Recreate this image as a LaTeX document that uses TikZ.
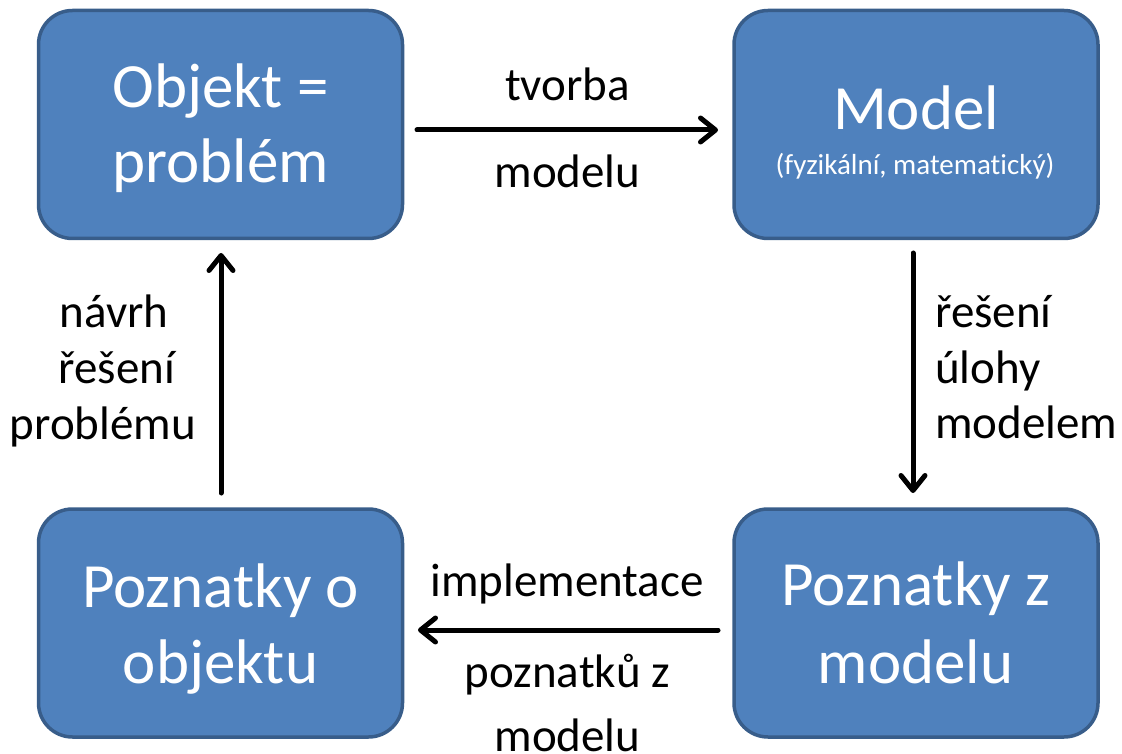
\documentclass[tikz,border=0pt]{standalone}
\usepackage{fontspec}
\setmainfont[Ligatures=NoCommon]{Carlito}
\usetikzlibrary{arrows.meta}

\definecolor{boxfill}{HTML}{4F81BD}
\definecolor{boxline}{HTML}{385D8A}

\tikzset{
  box/.style={draw=boxline, fill=boxfill, line width=3.5pt, rounded corners=34pt,
    minimum width=364pt, minimum height=228pt, outer sep=0pt, inner sep=0pt},
  boxtext/.style={text=white, font=\fontsize{63}{75}\selectfont, inner sep=0pt, anchor=base},
  subtext/.style={text=white, font=\fontsize{29}{35}\selectfont, inner sep=0pt, anchor=base},
  lbl/.style={text=black, font=\fontsize{47}{56}\selectfont, inner sep=0pt, anchor=base},
  lblw/.style={lbl, anchor=base west},
  flow/.style={draw=black, line width=5pt, line cap=round,
    -{Straight Barb[length=15pt, width=24pt, line cap=round, line join=round]}}
}

\begin{document}
\begin{tikzpicture}[x=1pt, y=-1pt]
  \useasboundingbox (0,0) rectangle (1122,754);

  % the four stages of the cycle
  \node[box] (obj)   at (220.5,124.5) {};
  \node[box] (model) at (916,124.5)   {};
  \node[box] (pzo)   at (220.5,623)   {};
  \node[box] (pzm)   at (916,623)     {};

  % box captions
  \node[boxtext] (objA) at (220.5,108) {Objekt =};
  \node[boxtext] (objB) at (220.5,183) {problém};
  \node[boxtext] (modA) at (916,130)   {Model};
  \node[subtext] (modB) at (915,175)   {(fyzikální, matematický)};
  \node[boxtext] (pzoA) at (220.5,607) {Poznatky o};
  \node[boxtext] (pzoB) at (220.5,683) {objektu};
  \node[boxtext] (pzmA) at (916,605)   {Poznatky z};
  \node[boxtext] (pzmB) at (915.5,683) {modelu};

  % transitions between the stages
  \draw[flow] ([xshift=14.5pt,yshift=-5.5pt]obj.east) -- ([xshift=-16pt,yshift=-5.5pt]model.west);
  \draw[flow] ([xshift=-3pt,yshift=-14.5pt]model.south) -- ([xshift=-3pt,yshift=16pt]pzm.north);
  \draw[flow] ([xshift=-16pt,yshift=-7pt]pzm.west) -- ([xshift=15.5pt,yshift=-7pt]pzo.east);
  \draw[flow] ([xshift=0.5pt,yshift=16pt]pzo.north) -- ([xshift=0.5pt,yshift=-14.5pt]obj.south);

  % transition labels
  \node[lbl] (t1a) at (567.5,101) {tvorba};
  \node[lbl] (t1b) at (567.5,188) {modelu};

  \node[lblw] (t2a) at (935,327) {řešení};
  \node[lblw] (t2b) at (935,383) {úlohy};
  \node[lblw] (t2c) at (935,438) {modelem};

  \node[lbl] (t3a) at (567,596)   {implementace};
  \node[lbl] (t3b) at (567.5,687) {poznatků z};
  \node[lbl] (t3c) at (567.5,751) {modelu};

  \node[lbl] (t4a) at (114,327) {návrh};
  \node[lbl] (t4b) at (117,383) {řešení};
  \node[lbl] (t4c) at (103,439) {problému};
\end{tikzpicture}
\end{document}
